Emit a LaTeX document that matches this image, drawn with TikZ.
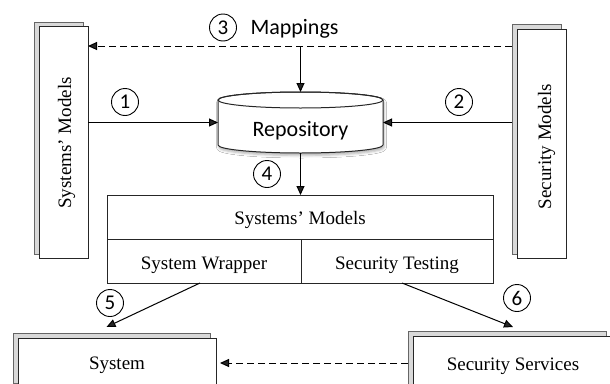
\documentclass[tikz,border=0pt]{standalone}
\usepackage{fontspec}
\setmainfont{Liberation Serif}
\newfontfamily\calib{Carlito}
\usetikzlibrary{arrows.meta,shadows.blur}
\begin{document}
\begin{tikzpicture}[x=1pt,y=-1pt,
  line width=1pt,
  backdoc/.style={draw=black!60, fill=black!15, inner sep=0pt, outer sep=0pt},
  frontdoc/.style={draw=black!85, fill=white, inner sep=0pt, outer sep=0pt},
  blockbox/.style={draw=black!85, fill=white, inner sep=0pt, outer sep=0pt},
  serif/.style={inner sep=0pt, font=\fontsize{19}{19}\selectfont},
  sans/.style={inner sep=0pt, font=\calib\fontsize{22}{22}\selectfont},
  numcirc/.style={circle, draw, line width=0.9pt, minimum size=27pt, inner sep=0pt, font=\calib\fontsize{21}{21}\selectfont},
  arr/.style={-{Triangle[length=9pt,width=8pt]}},
  dasharr/.style={arr, dash pattern=on 7pt off 4pt},
]
\fill[white] (0,0) rectangle (610,383);
\clip (0,0) rectangle (610,383);

% left documents
\node[backdoc, minimum width=49pt, minimum height=232pt] (ldocb) at (58.5,138) {};
\node[frontdoc, minimum width=49pt, minimum height=232pt] (ldoc) at (63.5,142) {};
\node[serif, rotate=90, anchor=base] (ltxt) at (71,143) {Systems’ Models};

% right documents
\node[backdoc, minimum width=49pt, minimum height=230pt] (rdocb) at (536.5,139) {};
\node[frontdoc, minimum width=49pt, minimum height=229pt] (rdoc) at (541.5,143.5) {};
\node[serif, rotate=90, anchor=base] (rtxt) at (551,146.5) {Security Models};

% repository cylinder
\path[draw=black!85, fill=white, blur shadow={shadow xshift=1pt, shadow yshift=-2.5pt, shadow blur radius=2.5pt, shadow opacity=30}]
  (218,100) -- (218,145) arc[start angle=180, end angle=0, x radius=82.5, y radius=8]
  -- (383,100) arc[start angle=0, end angle=-180, x radius=82.5, y radius=8] -- cycle;
\draw[black!85] (300.5,100) ellipse [x radius=82.5, y radius=8];
\node[inner sep=0pt, outer sep=0pt, minimum width=165pt, minimum height=61pt] (repo) at (300.5,122.5) {};
\node[sans, anchor=base] (repotxt) at (300.5,136) {Repository};

% middle block
\node[blockbox, minimum width=386pt, minimum height=44pt] (sm) at (300,217) {};
\node[blockbox, minimum width=194pt, minimum height=44pt] (sw) at (204,261) {};
\node[blockbox, minimum width=192pt, minimum height=44pt] (st) at (397,261) {};
\node[serif, anchor=base] (smtxt) at (300,224) {Systems’ Models};
\node[serif, anchor=base] (swtxt) at (204,269) {System Wrapper};
\node[serif, anchor=base] (sttxt) at (397,269) {Security Testing};

% bottom documents
\node[backdoc, minimum width=197pt, minimum height=50pt] (sysb) at (111.5,358) {};
\node[frontdoc, minimum width=198pt, minimum height=50pt] (sys) at (117,363) {};
\node[serif, anchor=base] (systxt) at (117,369) {System};
\node[backdoc, minimum width=198pt, minimum height=58pt] (ssb) at (507,360) {};
\node[frontdoc, minimum width=198pt, minimum height=58pt] (ss) at (512,365) {};
\node[serif, anchor=base] (sstxt) at (513,370) {Security Services};

% number circles and label
\node[numcirc] (c1) at (125,102) {1};
\node[numcirc] (c2) at (459,102) {2};
\node[numcirc] (c3) at (223,27.5) {3};
\node[numcirc] (c4) at (267,174) {4};
\node[numcirc] (c5) at (110,303) {5};
\node[numcirc] (c6) at (517,298) {6};
\node[sans, anchor=base west] (maptxt) at (250,34) {Mappings};

% connectors
\coordinate (maplevel) at (300,46);
\draw[arr] (ldoc.east |- repo.west) -- (repo.west);
\draw[arr] (rdocb.west |- repo.east) -- (repo.east);
\draw[dasharr] (rdocb.west |- maplevel) -- (ldoc.east |- maplevel);
\draw[arr] (repo.north |- maplevel) -- (repo.north);
\draw[arr] (repo.south) -- (repo.south |- sm.north);
\draw[arr] ([xshift=-4pt]sw.south) -- ([xshift=-5pt,yshift=6pt]sysb.north);
\draw[arr] ([xshift=5pt]st.south) -- ([xshift=6pt,yshift=4pt]ssb.north);
\draw[dasharr] (ssb.west |- sys.east) -- ([xshift=4pt]sys.east);
\end{tikzpicture}
\end{document}
